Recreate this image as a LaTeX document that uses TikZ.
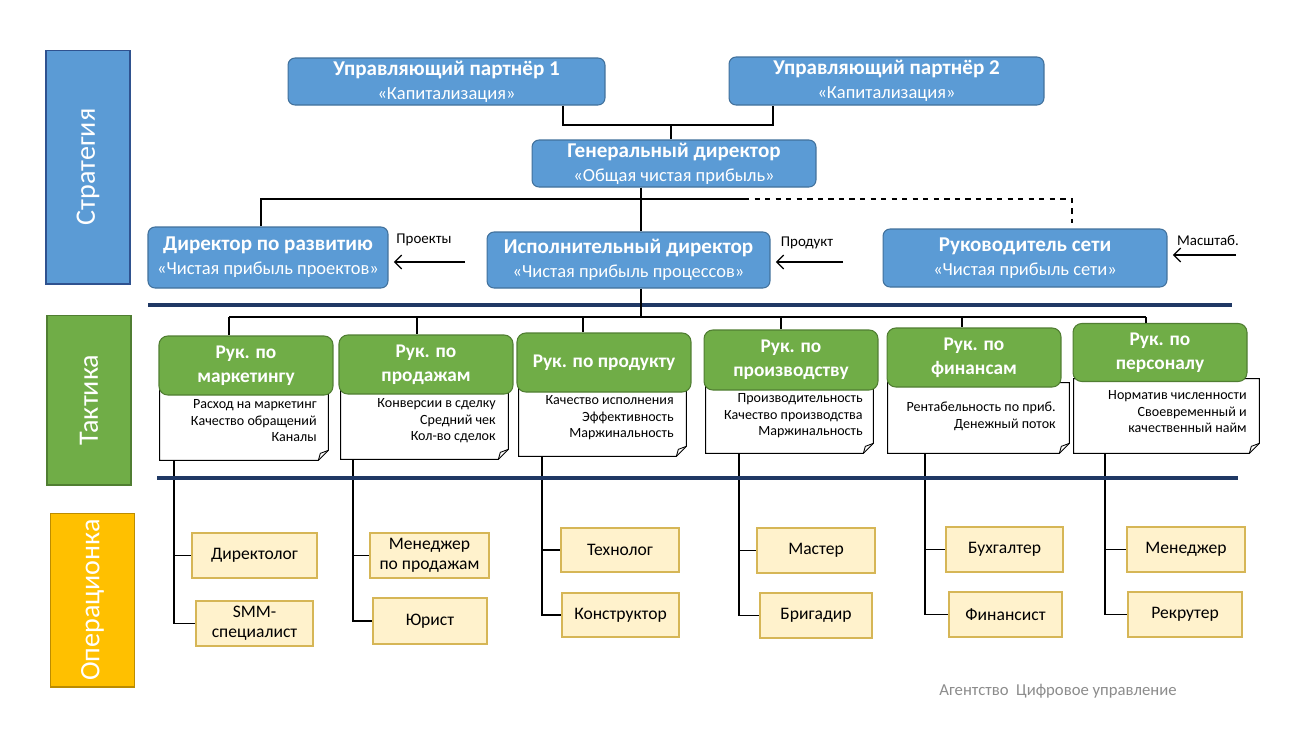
\documentclass[tikz,border=0pt]{standalone}
\usepackage{fontspec}
\setmainfont{Carlito}
\usetikzlibrary{arrows.meta,calc}
\definecolor{BlueClr}{rgb}{0.357,0.608,0.835}
\definecolor{BlueEdgeClr}{rgb}{0.255,0.443,0.612}
\definecolor{StratEdgeClr}{rgb}{0.184,0.322,0.561}
\definecolor{GreenClr}{rgb}{0.439,0.678,0.278}
\definecolor{GreenEdgeClr}{rgb}{0.314,0.494,0.196}
\definecolor{OpFillClr}{rgb}{1,0.949,0.8}
\definecolor{OpEdgeClr}{rgb}{0.839,0.714,0.337}
\definecolor{GoldClr}{rgb}{1,0.753,0}
\definecolor{GoldEdgeClr}{rgb}{0.737,0.549,0}
\definecolor{NavyClr}{rgb}{0.122,0.22,0.392}
\definecolor{FootClr}{rgb}{0.55,0.55,0.55}

\begin{document}
\begin{tikzpicture}[x=0.02cm,y=-0.02cm,
  Link/.style={line width=0.7pt,color=black},
  TopBox/.style={rectangle,rounded corners=4pt,fill=BlueClr,draw=BlueEdgeClr,line width=0.6pt,
    text=white,align=center,inner sep=0pt,font=\fontsize{10.5}{13.5}\selectfont},
  TacBox/.style={rectangle,rounded corners=5pt,fill=GreenClr,draw=GreenEdgeClr,line width=0.6pt,
    text=white,align=center,inner sep=0pt,font=\bfseries\fontsize{11}{13.5}\selectfont},
  NoteBox/.style={rectangle,fill=white,inner sep=0pt},
  NoteTxt/.style={align=right,inner sep=0pt,anchor=north east,font=\fontsize{8}{9.5}\selectfont},
  OpBox/.style={rectangle,fill=OpFillClr,draw=OpEdgeClr,line width=0.8pt,align=center,
    inner sep=0pt,font=\fontsize{10}{11.5}\selectfont},
  Band/.style={rectangle,inner sep=0pt,text=white,rotate=90,line width=0.6pt,
    minimum height=1.68cm,font=\fontsize{16}{18}\selectfont},
  ArrLbl/.style={inner sep=0pt,font=\fontsize{8.5}{10}\selectfont},
  Sep/.style={line width=1.8pt,color=NavyClr},
  Tip/.style={-{Straight Barb[length=4pt,width=8pt]},shorten >=3pt}]

\fill[white] (0,0) rectangle (1294,728);

\node[Band,fill=BlueClr,draw=StratEdgeClr,minimum width=4.68cm] (S) at (88,167) {Стратегия};
\node[Band,fill=GreenClr,draw=GreenEdgeClr,minimum width=3.40cm] (T) at (89,400) {Тактика};
\node[Band,fill=GoldClr,draw=GoldEdgeClr,minimum width=3.48cm] (O) at (92.5,600) {Операционка};

\node[TopBox,minimum width=6.34cm,minimum height=0.94cm] (P1) at (446.5,81.5)
  {\textbf{\fontsize{12}{14}\selectfont Управляющий партнёр 1}\\«Капитализация»};
\node[TopBox,minimum width=6.30cm,minimum height=0.96cm] (P2) at (886.5,81)
  {\textbf{\fontsize{12}{14}\selectfont Управляющий партнёр 2}\\«Капитализация»};
\node[TopBox,minimum width=5.68cm,minimum height=0.94cm] (GD) at (674,163.5)
  {\textbf{\fontsize{12}{14}\selectfont Генеральный директор}\\«Общая чистая прибыль»};
\node[TopBox,minimum width=4.80cm,minimum height=1.22cm] (DR) at (268,257.5)
  {\textbf{\fontsize{12}{14}\selectfont Директор по развитию}\\«Чистая прибыль проектов»};
\node[TopBox,minimum width=5.66cm,minimum height=1.12cm] (ID) at (628.5,260)
  {\textbf{\fontsize{12}{14}\selectfont Исполнительный директор}\\«Чистая прибыль процессов»};
\node[TopBox,minimum width=5.68cm,minimum height=1.16cm] (RS) at (1025,258)
  {\textbf{\fontsize{12}{14}\selectfont Руководитель сети}\\«Чистая прибыль сети»};

\draw[Link] (P1.south -| 563,0) -- (563,125) -| (P2.south -| 773,0);
\draw[Link] (671,125) coordinate (pb) -- (GD.north -| pb);
\draw[Link] (GD.south -| 641,0) -- (ID.north -| 641,0);
\draw[Link] (DR.north -| 261,0) |- (744,199) coordinate (gb);
\draw[Link,dashed,shorten >=3pt] (gb) -| (RS.north -| 1072,0);

\node[ArrLbl] (lProj) at (424,240) {Проекты};
\node[ArrLbl] (lProd) at (807,243) {Продукт};
\node[ArrLbl] (lScale) at (1208,240) {Масштаб.};
\draw[Link,Tip] (465,262) coordinate (aProj) -- (DR.east |- aProj);
\draw[Link,Tip] (843,262) coordinate (aProd) -- (ID.east |- aProd);
\draw[Link,Tip] (1236,255) coordinate (aScale) -- (RS.east |- aScale);

\draw[Sep] (148,305) -- (1232,305);

\node[NoteBox,minimum width=3.36cm,minimum height=1.40cm] (N1) at (244,425) {};
\node[NoteBox,minimum width=3.34cm,minimum height=1.38cm] (N2) at (424.5,424.5) {};
\node[NoteBox,minimum width=3.34cm,minimum height=1.36cm] (N3) at (602.5,422) {};
\node[NoteBox,minimum width=3.34cm,minimum height=1.34cm] (N4) at (789.5,419.5) {};
\node[NoteBox,minimum width=3.62cm,minimum height=1.40cm] (N5) at (978.5,418) {};
\node[NoteBox,minimum width=3.70cm,minimum height=1.48cm] (N6) at (1166.5,416) {};
\foreach \n in {N1,N2,N3,N4,N5,N6} {
  \draw[line width=0.5pt] (\n.north west) -- (\n.north east) -- ($(\n.south east)+(0,-10)$)
    -- ($(\n.south east)+(-10,0)$) -- (\n.south west) -- cycle;
  \draw[line width=0.5pt] ($(\n.south east)+(-10,0)$) -- ($(\n.south east)+(-8,-7)$)
    -- ($(\n.south east)+(0,-10)$);
}

\node[TacBox,minimum width=3.48cm,minimum height=1.18cm] (G1) at (246,365.5) {Рук. по\\маркетингу};
\node[TacBox,minimum width=3.48cm,minimum height=1.18cm] (G2) at (426,364.5) {Рук. по\\продажам};
\node[TacBox,minimum width=3.48cm,minimum height=1.18cm] (G3) at (604,362.5) {Рук. по продукту};
\node[TacBox,minimum width=3.48cm,minimum height=1.20cm] (G4) at (791,360) {Рук. по\\производству};
\node[TacBox,minimum width=3.48cm,minimum height=1.18cm] (G5) at (974,357.5) {Рук. по\\финансам};
\node[TacBox,minimum width=3.48cm,minimum height=1.16cm] (G6) at (1160,352.5) {Рук. по\\персоналу};

\foreach \g/\x in {G1/229,G2/417,G3/583,G4/781,G5/962,G6/1146}
  \draw[Link] (\x,317) coordinate (bus\g) -- (\g.north -| bus\g);
\draw[Link] (busG1) -- (busG6);
\draw[Link] (ID.south -| 641,0) -- (641,317);

\node[NoteTxt] (N1t) at (317,399) {Расход на маркетинг\\Качество обращений\\Каналы};
\node[NoteTxt] (N2t) at (496,398) {Конверсии в сделку\\Средний чек\\Кол-во сделок};
\node[NoteTxt] (N3t) at (674,395) {Качество исполнения\\Эффективность\\Маржинальность};
\node[NoteTxt] (N4t) at (863,393) {Производительность\\Качество производства\\Маржинальность};
\node[NoteTxt] (N5t) at (1056,402) {Рентабельность по приб.\\Денежный поток};
\node[NoteTxt] (N6t) at (1247,390) {Норматив численности\\Своевременный и\\качественный найм};

\node[OpBox,minimum width=2.50cm,minimum height=0.90cm] (A1) at (254.5,555.5) {Директолог};
\node[OpBox,minimum width=2.34cm,minimum height=0.90cm] (B1) at (254.5,623.5) {SMM-\\специалист};
\node[OpBox,minimum width=2.38cm,minimum height=0.90cm] (A2) at (429.5,555.5) {Менеджер\\по продажам};
\node[OpBox,minimum width=2.28cm,minimum height=0.92cm] (B2) at (430,621) {Юрист};
\node[OpBox,minimum width=2.36cm,minimum height=0.88cm] (A3) at (620,550) {Технолог};
\node[OpBox,minimum width=2.34cm,minimum height=0.88cm] (B3) at (620.5,615) {Конструктор};
\node[OpBox,minimum width=2.36cm,minimum height=0.90cm] (A4) at (816,550.5) {Мастер};
\node[OpBox,minimum width=2.24cm,minimum height=0.90cm] (B4) at (816,615.5) {Бригадир};
\node[OpBox,minimum width=2.34cm,minimum height=0.90cm] (A5) at (1004.5,549.5) {Бухгалтер};
\node[OpBox,minimum width=2.26cm,minimum height=0.90cm] (B5) at (1005.5,614.5) {Финансист};
\node[OpBox,minimum width=2.36cm,minimum height=0.90cm] (A6) at (1186,549.5) {Менеджер};
\node[OpBox,minimum width=2.28cm,minimum height=0.90cm] (B6) at (1185,614.5) {Рекрутер};

\foreach \c/\x in {1/174,2/353,3/542,4/739,5/925,6/1105} {
  \draw[Link] (N\c.south -| \x,0) |- (B\c.west);
  \draw[Link] (A\c.west -| \x,0) -- (A\c.west);
}

\draw[Sep] (157,478) -- (1238,478);

\node[font=\fontsize{9.5}{11}\selectfont,text=FootClr,inner sep=0pt] (foot) at (1058,691)
  {Агентство\ \ Цифровое управление};

\end{tikzpicture}
\end{document}
